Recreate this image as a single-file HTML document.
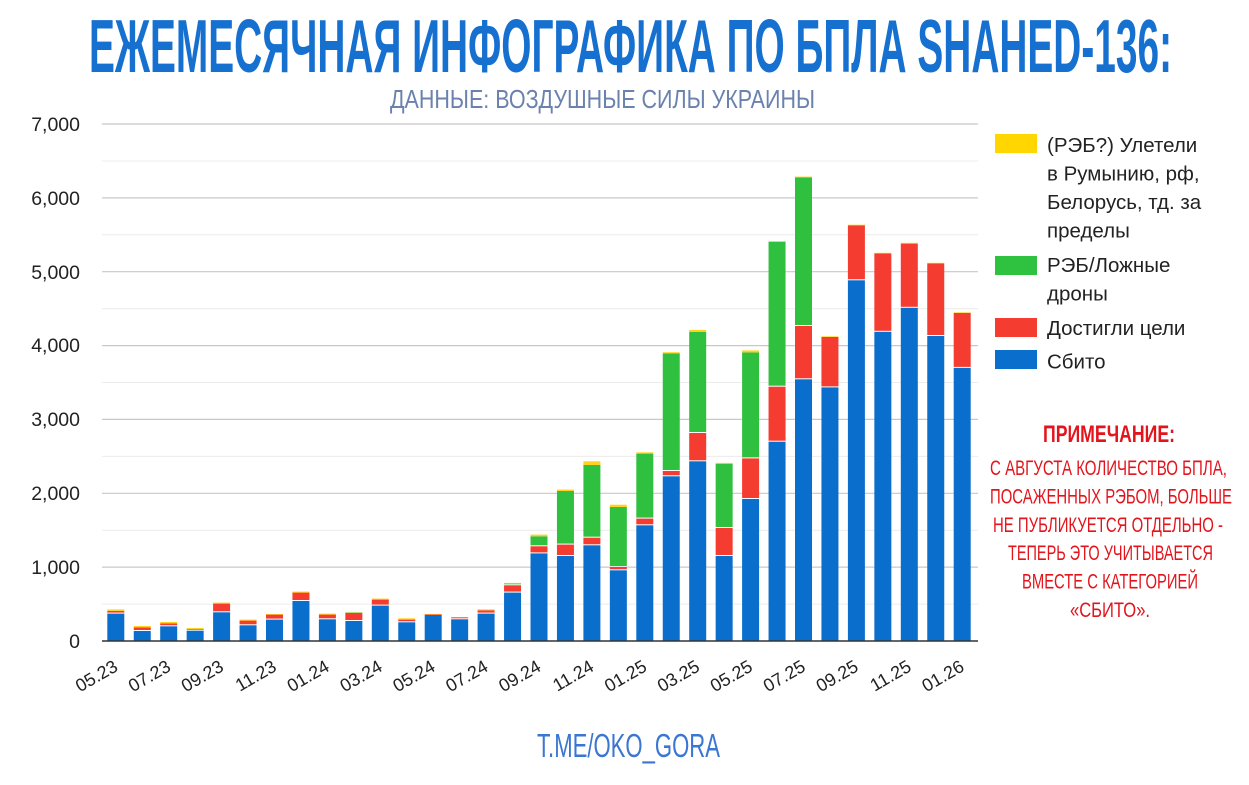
<!DOCTYPE html>
<html><head><meta charset="utf-8">
<style>
html,body{margin:0;padding:0;background:#fff;}
svg{display:block;}
</style></head>
<body>
<svg width="1249" height="785" viewBox="0 0 1249 785" xmlns="http://www.w3.org/2000/svg" font-family="'Liberation Sans', Arial, sans-serif">
<rect width="1249" height="785" fill="#fff"/>

<!-- Title -->
<text x="89" y="72" font-family="'Liberation Sans Narrow','Liberation Sans',sans-serif" font-weight="bold" font-size="75" fill="#1570d0" textLength="1083" lengthAdjust="spacingAndGlyphs">ЕЖЕМЕСЯЧНАЯ ИНФОГРАФИКА ПО БПЛА SHAHED-136:</text>
<text x="390" y="108" font-family="'Liberation Sans Narrow','Liberation Sans',sans-serif" font-size="26" fill="#6a82ad" textLength="425" lengthAdjust="spacingAndGlyphs">ДАННЫЕ: ВОЗДУШНЫЕ СИЛЫ УКРАИНЫ</text>

<!-- Gridlines minor -->
<g stroke="#ececec" stroke-width="1">
<line x1="102" x2="978" y1="604.1" y2="604.1"/>
<line x1="102" x2="978" y1="530.2" y2="530.2"/>
<line x1="102" x2="978" y1="456.4" y2="456.4"/>
<line x1="102" x2="978" y1="382.5" y2="382.5"/>
<line x1="102" x2="978" y1="308.7" y2="308.7"/>
<line x1="102" x2="978" y1="234.8" y2="234.8"/>
<line x1="102" x2="978" y1="161.0" y2="161.0"/>
</g>
<!-- Gridlines major -->
<g stroke="#c8c8c8" stroke-width="1.2">
<line x1="102" x2="978" y1="567.1" y2="567.1"/>
<line x1="102" x2="978" y1="493.3" y2="493.3"/>
<line x1="102" x2="978" y1="419.4" y2="419.4"/>
<line x1="102" x2="978" y1="345.6" y2="345.6"/>
<line x1="102" x2="978" y1="271.7" y2="271.7"/>
<line x1="102" x2="978" y1="197.9" y2="197.9"/>
<line x1="102" x2="978" y1="124.0" y2="124.0"/>
</g>

<!-- Y labels -->
<g font-size="19.5" fill="#222" text-anchor="end">
<text x="80" y="648">0</text>
<text x="80" y="574">1,000</text>
<text x="80" y="500">2,000</text>
<text x="80" y="426">3,000</text>
<text x="80" y="352">4,000</text>
<text x="80" y="279">5,000</text>
<text x="80" y="205">6,000</text>
<text x="80" y="131">7,000</text>
</g>

<!-- Bars -->
<g>
<g transform="translate(107.3,0)"><rect width="17" y="613.6" height="27.4" fill="#0a6ecc"/><rect width="17" y="610.9" height="1.7" fill="#f43c30"/><rect width="17" y="609.4" height="1.5" fill="#ffd21f"/></g>
<g transform="translate(133.75,0)"><rect width="17" y="631.0" height="10.0" fill="#0a6ecc"/><rect width="17" y="627.5" height="2.5" fill="#f43c30"/><rect width="17" y="626.0" height="1.5" fill="#ffd21f"/></g>
<g transform="translate(160.2,0)"><rect width="17" y="626.3" height="14.7" fill="#0a6ecc"/><rect width="17" y="623.5" height="1.8" fill="#f43c30"/><rect width="17" y="622.0" height="1.5" fill="#ffd21f"/></g>
<g transform="translate(186.65,0)"><rect width="17" y="630.7" height="10.3" fill="#0a6ecc"/><rect width="17" y="629.0" height="0.7" fill="#f43c30"/><rect width="17" y="628.0" height="1.0" fill="#ffd21f"/></g>
<g transform="translate(213.1,0)"><rect width="17" y="612.3" height="28.7" fill="#0a6ecc"/><rect width="17" y="603.6" height="7.7" fill="#f43c30"/><rect width="17" y="602.6" height="1.0" fill="#ffd21f"/></g>
<g transform="translate(239.55,0)"><rect width="17" y="625.3" height="15.7" fill="#0a6ecc"/><rect width="17" y="620.6" height="3.7" fill="#f43c30"/><rect width="17" y="619.6" height="1.0" fill="#ffd21f"/></g>
<g transform="translate(266.0,0)"><rect width="17" y="619.6" height="21.4" fill="#0a6ecc"/><rect width="17" y="614.6" height="4.0" fill="#f43c30"/><rect width="17" y="614.0" height="0.6" fill="#ffd21f"/></g>
<g transform="translate(292.45,0)"><rect width="17" y="601.0" height="40.0" fill="#0a6ecc"/><rect width="17" y="592.6" height="7.4" fill="#f43c30"/><rect width="17" y="591.6" height="1.0" fill="#ffd21f"/></g>
<g transform="translate(318.9,0)"><rect width="17" y="619.3" height="21.7" fill="#0a6ecc"/><rect width="17" y="614.6" height="3.7" fill="#f43c30"/><rect width="17" y="613.6" height="1.0" fill="#ffd21f"/></g>
<g transform="translate(345.35,0)"><rect width="17" y="621.0" height="20.0" fill="#0a6ecc"/><rect width="17" y="613.0" height="7.0" fill="#f43c30"/><rect width="17" y="612.6" height="0.4" fill="#30c040"/><rect width="17" y="612.3" height="0.3" fill="#ffd21f"/></g>
<g transform="translate(371.8,0)"><rect width="17" y="605.6" height="35.4" fill="#0a6ecc"/><rect width="17" y="599.6" height="5.0" fill="#f43c30"/><rect width="17" y="598.6" height="1.0" fill="#ffd21f"/></g>
<g transform="translate(398.25,0)"><rect width="17" y="622.3" height="18.7" fill="#0a6ecc"/><rect width="17" y="619.6" height="1.7" fill="#f43c30"/><rect width="17" y="618.3" height="1.3" fill="#ffd21f"/></g>
<g transform="translate(424.7,0)"><rect width="17" y="615.0" height="26.0" fill="#0a6ecc"/><rect width="17" y="614.4" height="0.6" fill="#f43c30"/><rect width="17" y="614.0" height="0.4" fill="#ffd21f"/></g>
<g transform="translate(451.15,0)"><rect width="17" y="619.3" height="21.7" fill="#0a6ecc"/><rect width="17" y="617.5" height="0.8" fill="#f43c30"/><rect width="17" y="617.0" height="0.5" fill="#ffd21f"/></g>
<g transform="translate(477.6,0)"><rect width="17" y="613.6" height="27.4" fill="#0a6ecc"/><rect width="17" y="610.3" height="2.3" fill="#f43c30"/><rect width="17" y="609.3" height="1.0" fill="#ffd21f"/></g>
<g transform="translate(504.05,0)"><rect width="17" y="592.6" height="48.4" fill="#0a6ecc"/><rect width="17" y="585.3" height="6.3" fill="#f43c30"/><rect width="17" y="583.6" height="0.7" fill="#30c040"/><rect width="17" y="582.9" height="0.7" fill="#ffd21f"/></g>
<g transform="translate(530.5,0)"><rect width="17" y="553.4" height="87.6" fill="#0a6ecc"/><rect width="17" y="546.3" height="6.1" fill="#f43c30"/><rect width="17" y="536.3" height="9.0" fill="#30c040"/><rect width="17" y="534.6" height="1.7" fill="#ffd21f"/></g>
<g transform="translate(556.95,0)"><rect width="17" y="556.0" height="85.0" fill="#0a6ecc"/><rect width="17" y="544.6" height="10.4" fill="#f43c30"/><rect width="17" y="491.0" height="52.6" fill="#30c040"/><rect width="17" y="489.6" height="1.4" fill="#ffd21f"/></g>
<g transform="translate(583.4,0)"><rect width="17" y="545.3" height="95.7" fill="#0a6ecc"/><rect width="17" y="537.7" height="6.6" fill="#f43c30"/><rect width="17" y="465.0" height="71.7" fill="#30c040"/><rect width="17" y="461.3" height="3.7" fill="#ffd21f"/></g>
<g transform="translate(609.85,0)"><rect width="17" y="570.3" height="70.7" fill="#0a6ecc"/><rect width="17" y="567.0" height="2.3" fill="#f43c30"/><rect width="17" y="507.0" height="59.0" fill="#30c040"/><rect width="17" y="504.7" height="2.3" fill="#ffd21f"/></g>
<g transform="translate(636.3,0)"><rect width="17" y="525.3" height="115.7" fill="#0a6ecc"/><rect width="17" y="518.6" height="5.7" fill="#f43c30"/><rect width="17" y="453.6" height="64.0" fill="#30c040"/><rect width="17" y="452.3" height="1.3" fill="#ffd21f"/></g>
<g transform="translate(662.75,0)"><rect width="17" y="476.3" height="164.7" fill="#0a6ecc"/><rect width="17" y="471.0" height="4.3" fill="#f43c30"/><rect width="17" y="353.5" height="116.5" fill="#30c040"/><rect width="17" y="352.2" height="1.3" fill="#ffd21f"/></g>
<g transform="translate(689.2,0)"><rect width="17" y="461.3" height="179.7" fill="#0a6ecc"/><rect width="17" y="433.0" height="27.3" fill="#f43c30"/><rect width="17" y="332.0" height="100.0" fill="#30c040"/><rect width="17" y="329.9" height="2.1" fill="#ffd21f"/></g>
<g transform="translate(715.65,0)"><rect width="17" y="556.0" height="85.0" fill="#0a6ecc"/><rect width="17" y="528.0" height="27.0" fill="#f43c30"/><rect width="17" y="463.7" height="63.3" fill="#30c040"/><rect width="17" y="462.9" height="0.8" fill="#ffd21f"/></g>
<g transform="translate(742.1,0)"><rect width="17" y="499.0" height="142.0" fill="#0a6ecc"/><rect width="17" y="458.4" height="39.6" fill="#f43c30"/><rect width="17" y="352.4" height="105.0" fill="#30c040"/><rect width="17" y="350.4" height="2.0" fill="#ffd21f"/></g>
<g transform="translate(768.55,0)"><rect width="17" y="441.7" height="199.3" fill="#0a6ecc"/><rect width="17" y="386.7" height="54.0" fill="#f43c30"/><rect width="17" y="241.8" height="143.9" fill="#30c040"/><rect width="17" y="241.1" height="0.7" fill="#ffd21f"/></g>
<g transform="translate(795.0,0)"><rect width="17" y="379.3" height="261.7" fill="#0a6ecc"/><rect width="17" y="326.0" height="52.3" fill="#f43c30"/><rect width="17" y="177.3" height="147.7" fill="#30c040"/><rect width="17" y="176.6" height="0.7" fill="#ffd21f"/></g>
<g transform="translate(821.45,0)"><rect width="17" y="387.4" height="253.6" fill="#0a6ecc"/><rect width="17" y="337.0" height="49.4" fill="#f43c30"/><rect width="17" y="336.3" height="0.7" fill="#ffd21f"/></g>
<g transform="translate(847.9,0)"><rect width="17" y="280.3" height="360.7" fill="#0a6ecc"/><rect width="17" y="225.3" height="54.0" fill="#f43c30"/><rect width="17" y="224.7" height="0.6" fill="#ffd21f"/></g>
<g transform="translate(874.35,0)"><rect width="17" y="331.8" height="309.2" fill="#0a6ecc"/><rect width="17" y="253.5" height="77.3" fill="#f43c30"/><rect width="17" y="252.8" height="0.7" fill="#ffd21f"/></g>
<g transform="translate(900.8,0)"><rect width="17" y="307.8" height="333.2" fill="#0a6ecc"/><rect width="17" y="243.6" height="63.2" fill="#f43c30"/><rect width="17" y="242.8" height="0.8" fill="#ffd21f"/></g>
<g transform="translate(927.25,0)"><rect width="17" y="336.0" height="305.0" fill="#0a6ecc"/><rect width="17" y="263.5" height="71.5" fill="#f43c30"/><rect width="17" y="262.8" height="0.7" fill="#ffd21f"/></g>
<g transform="translate(953.7,0)"><rect width="17" y="367.9" height="273.1" fill="#0a6ecc"/><rect width="17" y="312.9" height="54.0" fill="#f43c30"/><rect width="17" y="312.3" height="0.6" fill="#ffd21f"/></g>
</g>

<!-- Baseline -->
<line x1="102" x2="978" y1="641" y2="641" stroke="#333" stroke-width="1.6"/>

<!-- X labels -->
<g font-size="18" fill="#222" text-anchor="end">
<text transform="translate(119,670) rotate(-30)">05.23</text>
<text transform="translate(171.9,670) rotate(-30)">07.23</text>
<text transform="translate(224.8,670) rotate(-30)">09.23</text>
<text transform="translate(277.7,670) rotate(-30)">11.23</text>
<text transform="translate(330.6,670) rotate(-30)">01.24</text>
<text transform="translate(383.5,670) rotate(-30)">03.24</text>
<text transform="translate(436.4,670) rotate(-30)">05.24</text>
<text transform="translate(489.3,670) rotate(-30)">07.24</text>
<text transform="translate(542.2,670) rotate(-30)">09.24</text>
<text transform="translate(595.1,670) rotate(-30)">11.24</text>
<text transform="translate(648,670) rotate(-30)">01.25</text>
<text transform="translate(700.9,670) rotate(-30)">03.25</text>
<text transform="translate(753.8,670) rotate(-30)">05.25</text>
<text transform="translate(806.7,670) rotate(-30)">07.25</text>
<text transform="translate(859.6,670) rotate(-30)">09.25</text>
<text transform="translate(912.5,670) rotate(-30)">11.25</text>
<text transform="translate(965.4,670) rotate(-30)">01.26</text>
</g>

<!-- Legend -->
<rect x="995" y="134" width="42" height="19" fill="#ffd600"/>
<rect x="995" y="256" width="42" height="19" fill="#2fc241"/>
<rect x="995" y="318" width="42" height="19" fill="#f43c30"/>
<rect x="995" y="350" width="42" height="19" fill="#0a6ecc"/>
<g font-size="20.5" fill="#222">
<text x="1047" y="152">(РЭБ?) Улетели</text>
<text x="1047" y="180.5">в Румынию, рф,</text>
<text x="1047" y="209">Белорусь, тд. за</text>
<text x="1047" y="237.5">пределы</text>
<text x="1047" y="272">РЭБ/Ложные</text>
<text x="1047" y="300.5">дроны</text>
<text x="1047" y="335">Достигли цели</text>
<text x="1047" y="368.5">Сбито</text>
</g>

<!-- Note -->
<g fill="#e3141c" font-family="'Liberation Sans Narrow','Liberation Sans',sans-serif">
<text x="1043" y="442" font-size="24" font-weight="bold" textLength="132" lengthAdjust="spacingAndGlyphs">ПРИМЕЧАНИЕ:</text>
<g font-size="21">
<text x="990" y="475" textLength="237" lengthAdjust="spacingAndGlyphs">С АВГУСТА КОЛИЧЕСТВО БПЛА,</text>
<text x="990" y="503.5" textLength="242" lengthAdjust="spacingAndGlyphs">ПОСАЖЕННЫХ РЭБОМ, БОЛЬШЕ</text>
<text x="993" y="532" textLength="230" lengthAdjust="spacingAndGlyphs">НЕ ПУБЛИКУЕТСЯ ОТДЕЛЬНО -</text>
<text x="1008" y="560" textLength="205" lengthAdjust="spacingAndGlyphs">ТЕПЕРЬ ЭТО УЧИТЫВАЕТСЯ</text>
<text x="1022" y="588.5" textLength="176" lengthAdjust="spacingAndGlyphs">ВМЕСТЕ С КАТЕГОРИЕЙ</text>
<text x="1070" y="617" textLength="80" lengthAdjust="spacingAndGlyphs">«СБИТО».</text>
</g>
</g>

<!-- Footer -->
<text x="537" y="757" font-family="'Liberation Sans Narrow','Liberation Sans',sans-serif" font-size="33" fill="#3a76d2" textLength="183" lengthAdjust="spacingAndGlyphs">T.ME/OKO_GORA</text>
</svg>
</body></html>
